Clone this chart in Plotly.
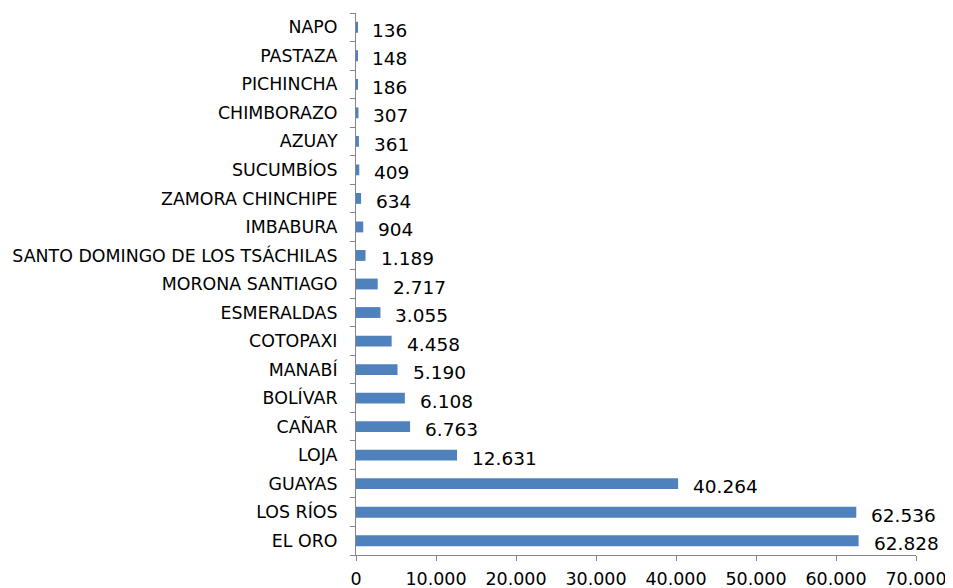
import plotly.graph_objects as go

provinces = ["EL ORO", "LOS RÍOS", "GUAYAS", "LOJA", "CAÑAR", "BOLÍVAR", "MANABÍ",
             "COTOPAXI", "ESMERALDAS", "MORONA SANTIAGO",
             "SANTO DOMINGO DE LOS TSÁCHILAS", "IMBABURA", "ZAMORA CHINCHIPE",
             "SUCUMBÍOS", "AZUAY", "CHIMBORAZO", "PICHINCHA", "PASTAZA", "NAPO"]
values = [62828, 62536, 40264, 12631, 6763, 6108, 5190, 4458, 3055, 2717,
          1189, 904, 634, 409, 361, 307, 186, 148, 136]
x_ticks = [0, 10000, 20000, 30000, 40000, 50000, 60000, 70000]

FONT = "DejaVu Sans"
bar_color = "#4F81BD"
axis_color = "#868686"

fig = go.Figure(go.Bar(
    y=provinces, x=values, orientation="h",
    marker=dict(color=bar_color, line=dict(width=0)),
    width=0.38,
    hoverinfo="x+y",
))

labels = [f"{v:,}".replace(",", ".") for v in values]
for p, v, t in zip(provinces, values, labels):
    fig.add_annotation(x=v, y=p, text=t, showarrow=False, xanchor="left",
                       xshift=13, yshift=-3,
                       font=dict(family=FONT, size=18.5, color="black"))

fig.update_layout(
    width=945, height=580,
    margin=dict(l=348, r=37, t=5, b=33, autoexpand=False),
    paper_bgcolor="white", plot_bgcolor="white",
    separators=",.",
    showlegend=False,
    font=dict(family=FONT, size=17, color="black"),
)
fig.update_xaxes(
    range=[0, 70000], tickvals=x_ticks, tickformat=",d",
    showgrid=False, zeroline=False, automargin=False,
    showline=True, linecolor=axis_color, linewidth=1,
    ticks="outside", ticklen=5, tickcolor=axis_color,
    tickfont=dict(family=FONT, size=17.5, color="black"),
    ticklabelstandoff=3,
)
fig.update_yaxes(
    type="category", categoryorder="array", categoryarray=provinces,
    range=[-0.5, len(provinces) - 0.5],
    showgrid=False, zeroline=False, automargin=False,
    showline=True, linecolor=axis_color, linewidth=1,
    ticks="outside", ticklen=5, tickcolor=axis_color, tickson="boundaries",
    tickfont=dict(family=FONT, size=17.4, color="black"),
    ticklabelstandoff=14,
)

fig.write_html("out.html")
